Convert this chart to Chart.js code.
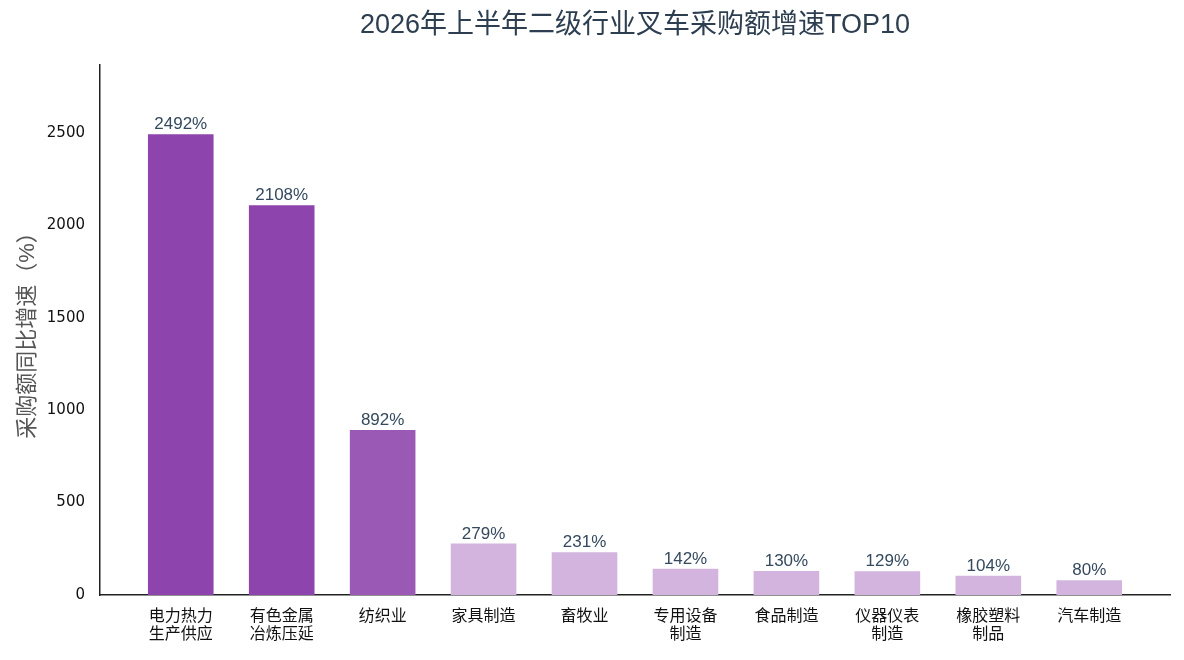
<!DOCTYPE html>
<html lang="zh">
<head>
<meta charset="UTF-8">
<title>叉车采购额增速TOP10</title>
<script src="https://cdn.jsdelivr.net/npm/chart.js"></script>
<style>
  html, body { margin: 0; padding: 0; background: #fff; }
  #wrap { width: 1184px; height: 660px; }
</style>
</head>
<body>
<div id="wrap"><canvas id="chart"></canvas></div>
<script>
// data
const chartTitle = '2026年上半年二级行业叉车采购额增速TOP10';
const industries = [
  ['电力热力', '生产供应'], ['有色金属', '冶炼压延'], '纺织业', '家具制造', '畜牧业',
  ['专用设备', '制造'], '食品制造', ['仪器仪表', '制造'], ['橡胶塑料', '制品'], '汽车制造'
];
const growth = [2492, 2108, 892, 279, 231, 142, 130, 129, 104, 80];
const barColors = ['#8e44ad', '#8e44ad', '#9b59b6', '#d2b4de', '#d2b4de',
                   '#d2b4de', '#d2b4de', '#d2b4de', '#d2b4de', '#d2b4de'];
const yTicks = [0, 500, 1000, 1500, 2000, 2500];

const FONT = '"Liberation Sans", "Noto Sans CJK SC", sans-serif';
const TICK_FONT = '"DejaVu Sans", "Noto Sans CJK SC", sans-serif';

// value labels above bars + title centred over the plot
const barLabels = {
  id: 'barLabels',
  afterDatasetsDraw(chart) {
    const ctx = chart.ctx;
    const meta = chart.getDatasetMeta(0);
    ctx.save();
    ctx.font = '17px ' + FONT;
    ctx.fillStyle = '#34495e';
    ctx.textAlign = 'center';
    ctx.textBaseline = 'bottom';
    meta.data.forEach((bar, i) => {
      ctx.fillText(growth[i] + '%', bar.x, bar.y - 1);
    });
    const area = chart.chartArea;
    ctx.font = '27px ' + FONT;
    ctx.fillStyle = '#2c3e50';
    ctx.textBaseline = 'middle';
    ctx.fillText(chartTitle, (area.left + area.right) / 2, 26);
    ctx.restore();
  }
};

new Chart(document.getElementById('chart'), {
  type: 'bar',
  data: {
    datasets: [{
      data: growth.map((v, i) => ({ x: i, y: v })),
      backgroundColor: barColors,
      barPercentage: 0.65,
      categoryPercentage: 1
    }]
  },
  options: {
    responsive: true,
    maintainAspectRatio: false,
    animation: false,
    layout: { padding: { left: 15, right: 14, top: 65, bottom: 0 } },
    plugins: {
      legend: { display: false },
      tooltip: { enabled: false },
      title: { display: false }
    },
    scales: {
      x: {
        type: 'linear',
        min: -0.8,
        max: 9.8,
        offset: false,
        grid: { display: false, drawTicks: true, tickLength: 6, tickColor: '#222' },
        border: { display: true, color: '#222', width: 1.5 },
        afterBuildTicks(scale) {
          scale.ticks = industries.map((_, i) => ({ value: i }));
        },
        afterFit(scale) { scale.height = 65; },
        ticks: {
          autoSkip: false,
          maxRotation: 0,
          color: '#111',
          padding: 7,
          font: { family: FONT, size: 16, lineHeight: 1.1 },
          callback: (v) => industries[v]
        }
      },
      y: {
        min: 0,
        max: 2866,
        grid: { display: false, drawTicks: true, tickLength: 6, tickColor: '#222' },
        border: { display: true, color: '#222', width: 1.5 },
        afterBuildTicks(scale) {
          scale.ticks = yTicks.map(v => ({ value: v }));
        },
        afterFit(scale) { scale.width = 85; },
        ticks: {
          color: '#111',
          padding: 9,
          font: { family: TICK_FONT, size: 15 },
          callback: (v) => String(v)
        },
        title: {
          display: true,
          text: '采购额同比增速（%）',
          color: '#555',
          font: { family: FONT, size: 22 },
          padding: { top: 0, bottom: 6 }
        }
      }
    }
  },
  plugins: [barLabels]
});
</script>
</body>
</html>
